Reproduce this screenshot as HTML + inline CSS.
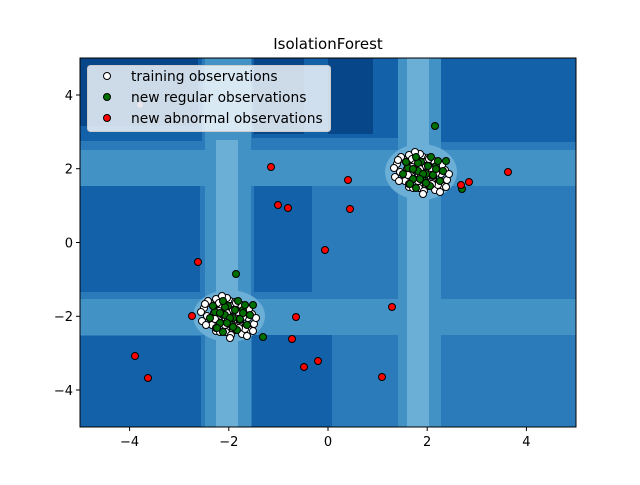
<!DOCTYPE html>
<html><head><meta charset="utf-8"><style>
html,body{margin:0;padding:0;background:#fff;}
svg text{font-family:"DejaVu Sans","Liberation Sans",sans-serif;}
</style></head><body>
<svg width="640" height="480" viewBox="0 0 640 480" xmlns="http://www.w3.org/2000/svg">
<defs>
<clipPath id="ax"><rect x="80" y="58" width="496" height="369"/></clipPath>
<g id="cw" fill="#fff" stroke="#000" stroke-width="1">
<circle cx="-20" cy="8" r="3.5"/><circle cx="-18" cy="-5" r="3.5"/><circle cx="-15" cy="3" r="3.5"/><circle cx="-12" cy="-10" r="3.5"/><circle cx="-10" cy="12" r="3.5"/><circle cx="-8" cy="0" r="3.5"/><circle cx="-6" cy="-14" r="3.5"/><circle cx="-4" cy="6" r="3.5"/><circle cx="-2" cy="-4" r="3.5"/><circle cx="0" cy="10" r="3.5"/><circle cx="2" cy="-8" r="3.5"/><circle cx="4" cy="2" r="3.5"/><circle cx="6" cy="14" r="3.5"/><circle cx="8" cy="-12" r="3.5"/><circle cx="10" cy="6" r="3.5"/><circle cx="12" cy="-2" r="3.5"/><circle cx="14" cy="10" r="3.5"/><circle cx="16" cy="-6" r="3.5"/><circle cx="18" cy="4" r="3.5"/><circle cx="-14" cy="-12" r="3.5"/><circle cx="-16" cy="12" r="3.5"/><circle cx="-5" cy="15" r="3.5"/><circle cx="5" cy="-15" r="3.5"/><circle cx="-9" cy="-7" r="3.5"/><circle cx="9" cy="9" r="3.5"/><circle cx="13" cy="-11" r="3.5"/><circle cx="-11" cy="5" r="3.5"/><circle cx="7" cy="-3" r="3.5"/><circle cx="-3" cy="-10" r="3.5"/><circle cx="3" cy="8" r="3.5"/><circle cx="20" cy="-2" r="3.5"/><circle cx="-21" cy="-1" r="3.5"/><circle cx="0" cy="-17" r="3.5"/><circle cx="-6" cy="18" r="3.5"/><circle cx="11" cy="16" r="3.5"/><circle cx="17" cy="11" r="3.5"/><circle cx="-17" cy="-9" r="3.5"/>
</g>
<g id="cg" fill="#007000" stroke="#000" stroke-width="1">
<circle cx="-15" cy="0" r="3.5"/><circle cx="-10" cy="-6" r="3.5"/><circle cx="-5" cy="5" r="3.5"/><circle cx="0" cy="-3" r="3.5"/><circle cx="5" cy="6" r="3.5"/><circle cx="10" cy="-8" r="3.5"/><circle cx="15" cy="2" r="3.5"/><circle cx="-8" cy="10" r="3.5"/><circle cx="3" cy="-12" r="3.5"/><circle cx="12" cy="12" r="3.5"/><circle cx="-2" cy="14" r="3.5"/><circle cx="8" cy="0" r="3.5"/><circle cx="18" cy="-8" r="3.5"/><circle cx="-12" cy="-12" r="3.5"/>
</g>
<g id="cl">
<use href="#cw" transform="translate(-7,-3)"/>
<use href="#cw" transform="translate(7,4)"/>
<use href="#cg" transform="translate(-4,2)"/>
<use href="#cg" transform="translate(6,-3)"/>
</g>
</defs>
<text x="328" y="49" font-size="15" text-anchor="middle" fill="#000">IsolationForest</text>
<g clip-path="url(#ax)">
<rect x="80" y="58" width="496" height="369" fill="#2b7bba"/>
<g fill="#1361a9">
<rect x="80" y="58" width="122" height="83"/>
<rect x="252" y="58" width="160" height="80"/>
<rect x="440" y="58" width="136" height="84"/>
<rect x="80" y="182" width="120" height="110"/>
<rect x="254" y="184" width="58" height="108"/>
<rect x="80" y="336" width="121" height="91"/>
<rect x="252" y="333" width="80" height="94"/>
</g>
<g fill="#08468a">
<rect x="80" y="58" width="118" height="68"/>
<rect x="254" y="58" width="50" height="76"/>
<rect x="328" y="58" width="45" height="76"/>
</g>
<g fill="#4292c6">
<rect x="205" y="58" width="46" height="369"/>
<rect x="80" y="299" width="496" height="36"/>
<rect x="398" y="58" width="43" height="369"/>
<rect x="80" y="150" width="496" height="36"/>
</g>
<g fill="#6baed6">
<rect x="216" y="140" width="22" height="287"/>
<rect x="407" y="58" width="22" height="369"/>
<ellipse cx="229" cy="316" rx="36" ry="26"/>
<ellipse cx="421" cy="172" rx="36" ry="28"/>
</g>
<use href="#cl" transform="translate(229,316)"/>
<use href="#cl" transform="translate(422,172)"/>
<g fill="#007000" stroke="#000" stroke-width="1">
<circle cx="435" cy="126" r="3.5"/><circle cx="236" cy="274" r="3.5"/><circle cx="263" cy="337" r="3.5"/><circle cx="462" cy="189" r="3.5"/>
</g>
<g fill="#f00" stroke="#000" stroke-width="1">
<circle cx="271" cy="167" r="3.5"/><circle cx="348" cy="180" r="3.5"/><circle cx="278" cy="205" r="3.5"/><circle cx="288" cy="208" r="3.5"/><circle cx="350" cy="209" r="3.5"/><circle cx="325" cy="250" r="3.5"/><circle cx="198" cy="262" r="3.5"/><circle cx="192" cy="316" r="3.5"/><circle cx="296" cy="317" r="3.5"/><circle cx="292" cy="339" r="3.5"/><circle cx="392" cy="307" r="3.5"/><circle cx="304" cy="367" r="3.5"/><circle cx="318" cy="361" r="3.5"/><circle cx="135" cy="356" r="3.5"/><circle cx="148" cy="378" r="3.5"/><circle cx="382" cy="377" r="3.5"/><circle cx="508" cy="172" r="3.5"/><circle cx="469" cy="182" r="3.5"/><circle cx="461" cy="185" r="3.5"/>
</g>
<circle cx="140" cy="105" r="3" fill="#ffb0b0" opacity="0.6"/>
</g>
<rect x="80" y="58" width="496" height="369" fill="none" stroke="#000" stroke-width="1"/>
<rect x="87.5" y="65.5" width="243" height="66" rx="3" fill="#fff" fill-opacity="0.8" stroke="#ccc"/>
<circle cx="107" cy="76" r="3.5" fill="#fff" stroke="#000"/>
<circle cx="107" cy="97" r="3.5" fill="#007000" stroke="#000"/>
<circle cx="107" cy="118" r="3.5" fill="#f00" stroke="#000"/>
<g font-size="13.8" fill="#000">
<text x="131" y="81">training observations</text>
<text x="131" y="102">new regular observations</text>
<text x="131" y="123">new abnormal observations</text>
</g>
<g stroke="#000" stroke-width="1">
<line x1="129.6" y1="427" x2="129.6" y2="431"/><line x1="228.8" y1="427" x2="228.8" y2="431"/><line x1="328" y1="427" x2="328" y2="431"/><line x1="427.2" y1="427" x2="427.2" y2="431"/><line x1="526.4" y1="427" x2="526.4" y2="431"/>
<line x1="76" y1="95" x2="80" y2="95"/><line x1="76" y1="168.7" x2="80" y2="168.7"/><line x1="76" y1="242.5" x2="80" y2="242.5"/><line x1="76" y1="316.3" x2="80" y2="316.3"/><line x1="76" y1="390" x2="80" y2="390"/>
</g>
<g font-size="13" fill="#000" text-anchor="middle">
<text x="129.6" y="446">−4</text><text x="228.8" y="446">−2</text><text x="328" y="446">0</text><text x="427.2" y="446">2</text><text x="526.4" y="446">4</text>
</g>
<g font-size="13" fill="#000" text-anchor="end">
<text x="73" y="100">4</text><text x="73" y="173.5">2</text><text x="73" y="247.5">0</text><text x="73" y="321">−2</text><text x="73" y="395">−4</text>
</g>
</svg>
</body></html>
